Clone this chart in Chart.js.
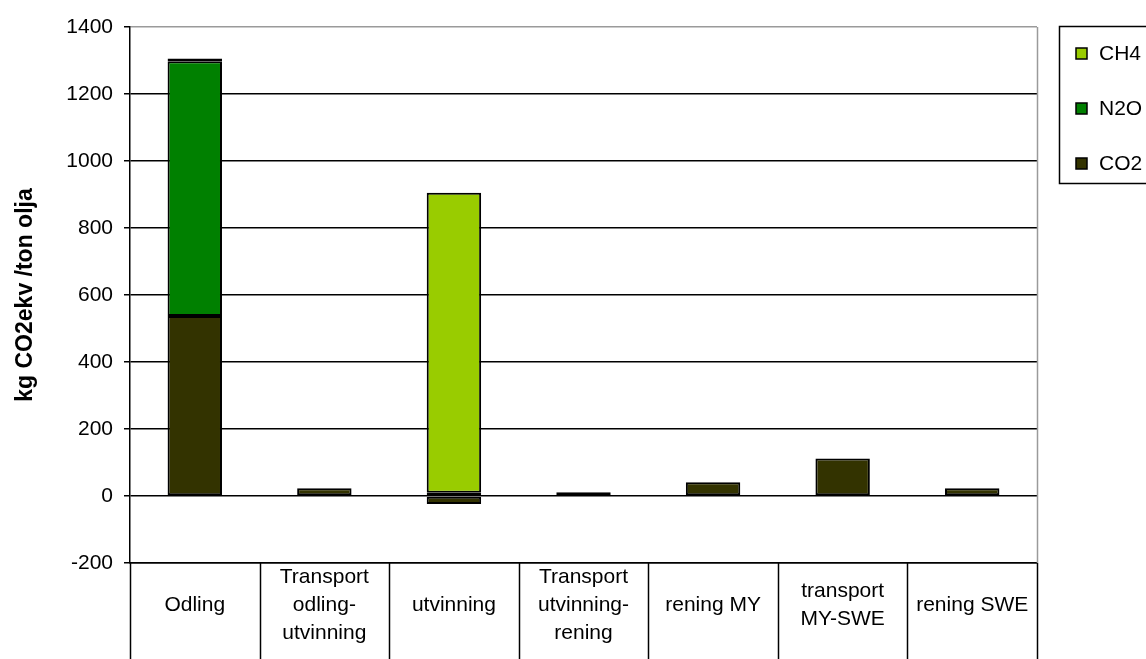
<!DOCTYPE html>
<html>
<head>
<meta charset="utf-8">
<script src="https://cdn.jsdelivr.net/npm/chart.js@4.4.0/dist/chart.umd.min.js"></script>
<style>
  html, body { margin: 0; padding: 0; background: #fff; overflow: hidden; }
  #wrap { width: 1146px; height: 659px; position: relative; }
</style>
</head>
<body>
<div id="wrap"><canvas id="barChart" width="1146" height="659"></canvas></div>
<script>
const CHART = document.getElementById("barChart");

// stages of the chain
const categories = [
    'Odling',
    ['Transport', 'odling-', 'utvinning'],
    'utvinning',
    ['Transport', 'utvinning-', 'rening'],
    'rening MY',
    ['transport', 'MY-SWE'],
    'rening SWE'
];

// kg CO2ekv per ton olja
const co2 = [537, 23, -24, 11, 41, 112, 23];
const n2o = [761, 0, 10, 0, 0, 0, 0];
const ch4 = [8, 0, 895, 0, 0, 0, 0];

const yTicks = [-200, 0, 200, 400, 600, 800, 1000, 1200, 1400];

const FONT = "'Liberation Sans', Arial, sans-serif";

// vertical lines that box in each category label under the plot
const cellLines = {
    id: 'cellLines',
    afterDraw(chart) {
        const {ctx, chartArea} = chart;
        const x = chart.scales.x;
        const n = categories.length;
        ctx.save();
        // plot area frame on the right
        ctx.strokeStyle = '#9a9a9a';
        ctx.lineWidth = 1.5;
        ctx.beginPath();
        ctx.moveTo(chartArea.right + 0.5, chartArea.top);
        ctx.lineTo(chartArea.right + 0.5, chartArea.bottom);
        ctx.stroke();
        ctx.strokeStyle = '#000';
        ctx.lineWidth = 1.5;
        for (let i = 0; i <= n; i++) {
            const px = Math.round(x.left + i * x.width / n) + 0.5;
            ctx.beginPath();
            ctx.moveTo(px, chartArea.bottom);
            ctx.lineTo(px, chart.height);
            ctx.stroke();
        }
        ctx.restore();
    }
};

// legend box at the right edge, top item first
const sideLegend = {
    id: 'sideLegend',
    afterDraw(chart) {
        const ctx = chart.ctx;
        const left = 1059, top = 26, h = 157;
        ctx.save();
        ctx.strokeStyle = '#000';
        ctx.lineWidth = 1.5;
        ctx.strokeRect(left + 0.5, top + 0.5, 200, h);
        ctx.font = '21px ' + FONT;
        ctx.textBaseline = 'middle';
        const sets = chart.data.datasets.slice().reverse();
        sets.forEach((ds, i) => {
            const cy = top + 27 + i * 55;
            ctx.fillStyle = ds.backgroundColor;
            ctx.fillRect(1076, cy - 5, 11, 11);
            ctx.lineWidth = 1.5;
            ctx.strokeRect(1076, cy - 5, 11, 11);
            ctx.fillStyle = '#000';
            ctx.fillText(ds.label, 1099, cy + 1);
        });
        ctx.restore();
    }
};

const seriesStyle = {
    borderColor: '#000',
    borderWidth: 2,
    borderSkipped: false,
    barPercentage: 0.42,
    categoryPercentage: 1.0
};

const data = {
    labels: categories,
    datasets: [
        Object.assign({label: 'CO2', data: co2, backgroundColor: '#333300'}, seriesStyle),
        Object.assign({label: 'N2O', data: n2o, backgroundColor: '#008000'}, seriesStyle),
        Object.assign({label: 'CH4', data: ch4, backgroundColor: '#99CC00'}, seriesStyle)
    ]
};

let barChart = new Chart(CHART, {
    type: 'bar',
    data,
    options: {
        responsive: false,
        animation: false,
        layout: {padding: {top: 27, right: 109, left: 0, bottom: 0}},
        plugins: {
            legend: {display: false},
            tooltip: {enabled: false}
        },
        scales: {
            x: {
                stacked: true,
                grid: {display: false},
                border: {display: true, color: '#000', width: 1.5},
                ticks: {
                    color: '#000',
                    font: {family: FONT, size: 21, lineHeight: '28px'},
                    padding: 6,
                    crossAlign: 'center',
                    maxRotation: 0,
                    autoSkip: false
                },
                afterFit(scale) { scale.height = 96; }
            },
            y: {
                stacked: true,
                min: -200,
                max: 1400,
                afterBuildTicks(scale) {
                    scale.ticks = yTicks.map(v => ({value: v}));
                },
                grid: {
                    color: ctx => ctx.tick && ctx.tick.value === 1400 ? '#9a9a9a' : '#000',
                    lineWidth: 1.5,
                    tickLength: 6,
                    tickColor: '#000'
                },
                border: {display: true, color: '#000', width: 1.5},
                ticks: {
                    color: '#000',
                    font: {family: FONT, size: 21},
                    padding: 11,
                    callback: v => String(v)
                },
                title: {
                    display: true,
                    text: 'kg CO2ekv /ton olja',
                    color: '#000',
                    font: {family: FONT, size: 23, weight: 'bold'},
                    padding: {top: 12, bottom: 0}
                },
                afterFit(scale) { scale.width = 130; }
            }
        }
    },
    plugins: [cellLines, sideLegend]
});
</script>
</body>
</html>
